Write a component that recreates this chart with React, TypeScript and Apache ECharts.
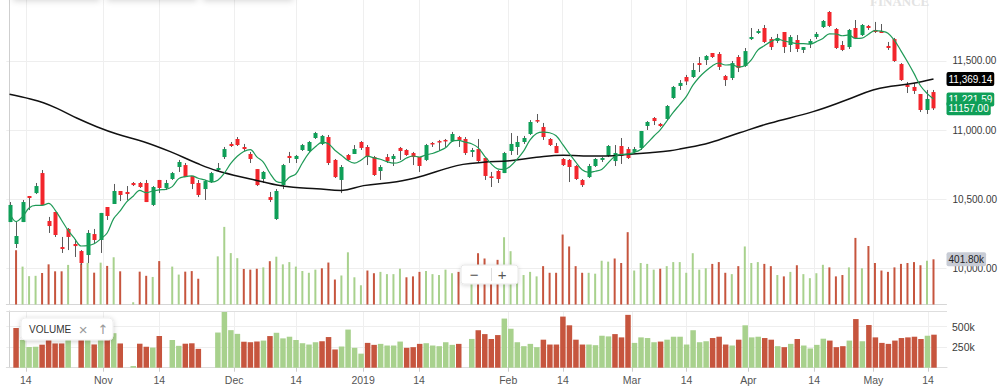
import React, { useEffect, useRef } from 'react';
import * as echarts from 'echarts';

// ---- Candles (open, close, low, high) ----
const opens = [10333,10174,10333,10522,10543,10688,10341,10406,10152,10283,10174,10123,10094,10246,10203,10442,10464,10558,10551,10616,10616,10616,10457,10638,10580,10645,10732,10746,10667,10616,10572,10623,10710,10804,10899,10935,10877,10826,10717,10645,10514,10355,10601,10812,10790,10855,10848,10942,10899,10949,10783,10638,10819,10826,10913,10877,10804,10703,10804,10790,10870,10855,10833,10804,10783,10906,10920,10928,10920,10949,10935,10841,10862,10797,10664,10703,10688,10848,10877,10913,10971,11072,11022,10935,10884,10790,10783,10739,10638,10659,10739,10783,10812,10775,10884,10862,10841,10870,11029,11087,11044,11080,11232,11319,11384,11384,11485,11507,11558,11551,11391,11377,11529,11464,11659,11703,11739,11659,11645,11710,11616,11652,11580,11623,11674,11746,11855,11732,11616,11601,11739,11688,11754,11725,11717,11609,11659,11478,11326,11312,11261,11145,11275];
const closes = [10457,10232,10478,10507,10594,10457,10304,10239,10138,10225,10159,10036,10254,10203,10399,10377,10558,10529,10536,10601,10587,10478,10587,10580,10616,10688,10768,10659,10609,10529,10630,10688,10725,10862,10884,10891,10862,10790,10601,10696,10493,10558,10746,10797,10812,10891,10913,10978,10957,10761,10659,10732,10783,10862,10870,10804,10674,10732,10775,10812,10848,10819,10804,10739,10891,10895,10913,10917,10971,10928,10833,10855,10775,10667,10652,10645,10833,10899,10913,10942,11058,11062,10949,10891,10833,10746,10732,10645,10601,10739,10790,10797,10884,10833,10812,10797,10862,10993,11058,11065,11029,11174,11312,11341,11352,11435,11471,11536,11529,11457,11362,11485,11449,11572,11674,11717,11638,11601,11667,11601,11674,11587,11601,11645,11696,11790,11754,11594,11580,11725,11667,11761,11739,11710,11703,11594,11500,11362,11312,11283,11145,11225,11157];
const lows = [10333,10145,10333,10420,10536,10457,10254,10225,10109,10130,10080,10022,10036,10181,10109,10348,10464,10485,10493,10594,10580,10478,10449,10543,10565,10638,10696,10659,10572,10514,10493,10616,10703,10790,10877,10884,10848,10761,10594,10616,10478,10348,10572,10761,10761,10848,10841,10935,10891,10746,10652,10543,10775,10826,10855,10746,10667,10638,10761,10739,10783,10812,10746,10696,10775,10877,10848,10877,10913,10877,10819,10804,10768,10638,10587,10616,10688,10819,10819,10899,10964,11051,10928,10884,10833,10739,10623,10638,10587,10652,10732,10768,10804,10739,10754,10790,10833,10855,11000,11036,11022,11072,11225,11290,11326,11377,11420,11471,11522,11435,11319,11362,11420,11457,11652,11696,11630,11580,11630,11558,11565,11565,11558,11594,11659,11739,11746,11587,11572,11587,11659,11681,11725,11703,11703,11580,11493,11355,11268,11261,11130,11116,11145];
const highs = [10478,10333,10493,10522,10616,10710,10370,10406,10225,10290,10210,10130,10275,10283,10399,10442,10609,10558,10594,10623,10623,10638,10594,10638,10638,10696,10783,10761,10667,10638,10638,10696,10761,10877,10913,10949,10899,10841,10717,10703,10551,10572,10754,10841,10819,10899,10920,10986,10964,10964,10790,10746,10826,10891,10920,10891,10812,10746,10826,10826,10877,10862,10841,10804,10899,10913,10928,10935,10986,10957,10949,10870,10935,10797,10696,10710,10841,10978,10957,10957,11072,11116,11051,10942,10906,10797,10790,10746,10645,10754,10797,10804,10891,10891,10942,10877,10877,10993,11065,11094,11051,11181,11319,11362,11399,11485,11529,11543,11558,11565,11399,11500,11543,11594,11739,11732,11761,11674,11696,11710,11688,11688,11601,11659,11710,11797,11862,11739,11645,11732,11797,11768,11761,11783,11768,11638,11667,11485,11348,11341,11261,11290,11290];

// ---- Volume, thousands (null = no bar) ----
const volumesK = [null,483,337,252,255,280,357,295,295,352,null,365,370,283,372,343,420,295,null,20,292,255,245,386,null,337,266,292,297,229,null,null,428,690,457,412,316,310,318,330,385,425,357,377,337,298,282,310,322,373,222,258,464,242,171,302,278,290,270,270,318,242,250,290,298,270,262,310,278,290,null,350,456,409,349,397,598,474,310,262,290,250,341,282,282,622,516,341,282,282,274,389,381,409,369,643,302,369,361,310,318,341,377,377,282,456,310,322,361,377,282,270,341,516,369,377,361,341,262,250,290,349,270,234,278,353,330,250,262,330,592,322,520,369,302,290,330,361,369,377,349,389,401.8];

// ---- Moving averages ----
const ma5Lead = [10398, 10336, 10372, 10435];
const ma50X = [0,3.2,5.2,7.3,10.4,13.4,16.5,20.6,24.7,28.8,31.9,37,41.1,43.6,47.2,51,54.4,59.5,63.6,67.2,69.7,72.8,76.9,81,85.1,88.2,91.8,95.3,98.4,101.5,103,107.6,112.2,116.8,123.5,128.6,132.7,135.8,138.9,142];
const ma50Y = [11259,11225,11198,11157,11085,11024,10971,10915,10843,10759,10705,10645,10601,10585,10575,10562,10597,10625,10669,10722,10751,10766,10778,10802,10817,10812,10812,10824,10836,10850,10862,10908,10980,11049,11133,11217,11290,11319,11338,11369.14];

// ---- Axis ticks / labels ----
const tickPos = [2.5,14.4,23,34.5,44,54.3,62.9,76.6,85,95.6,104,113.5,123.6,132.7,141.1];
const tickLabels = ['14','Nov','14','Dec','14','2019','14','Feb','14','Mar','14','Apr','14','May','14'];
const priceTicks = [10000, 10500, 11000, 11500];
const volTicks = [250000, 500000];
const tagMa50 = 11369.14;
const tagMa5 = 11221.59;
const tagLast = 11157.0;
const tagVolume = 401800;

const GREEN = '#0f9f58';
const RED = '#f2262c';
const VG = '#a8d18d';
const VR = '#c6553e';
const FONT = '"Liberation Sans", Arial, Helvetica, sans-serif';

function fmtPrice(v: number): string {
  const s = v.toFixed(2);
  const [a, b] = s.split('.');
  return a.replace(/\B(?=(\d{3})+(?!\d))/g, ',') + '.' + b;
}

export default function App() {
  const ref = useRef<HTMLDivElement>(null);
  useEffect(() => {
    if (!ref.current) return;
    const chart = echarts.init(ref.current, undefined, { renderer: 'svg' });

    const candleData = opens.map((o, i) => [i, o, closes[i], lows[i], highs[i]]);
    const isUp = (i: number) => (i === 0 ? true : closes[i] >= closes[i - 1]);
    const volOverlay: any[] = [];
    const volPane: any[] = [];
    volumesK.forEach((v, i) => {
      if (v == null) return;
      const c = isUp(i) ? VG : VR;
      volOverlay.push({ value: [i, v * 1000], itemStyle: { color: c } });
      volPane.push({ value: [i, v * 1000], itemStyle: { color: c } });
    });
    const ma5 = closes.map((c, i) => {
      if (i < 4) return [i, ma5Lead[i]];
      let s = 0;
      for (let k = i - 4; k <= i; k++) s += closes[k];
      return [i, s / 5];
    });
    const ma50 = ma50X.map((x, i) => [x, ma50Y[i]]);

    const xFmt = (v: number) => {
      const k = tickPos.findIndex((p) => Math.abs(p - v) < 1e-6);
      return k >= 0 ? tickLabels[k] : '';
    };

    const tagLabel = (bg: string, fg: string, text: string) => ({
      show: true,
      position: 'end',
      distance: 0,
      formatter: text,
      backgroundColor: bg,
      color: fg,
      fontSize: 10,
      fontFamily: FONT,
      padding: [2, 2, 2, 2],
      borderRadius: 2,
    });

    const option: any = {
      animation: false,
      textStyle: { fontFamily: FONT },
      grid: [
        { left: 6.3, top: 0, width: 940.7, height: 304.5 },
        { left: 6.3, top: 311, width: 940.7, height: 56.7 },
      ],
      xAxis: [
        {
          type: 'value', gridIndex: 0, min: -0.5, max: 144,
          axisLine: { show: true, onZero: false, lineStyle: { color: '#d6d6d6' } },
          axisTick: { show: false, customValues: tickPos },
          axisLabel: { show: false, customValues: tickPos },
          splitLine: { show: true, lineStyle: { color: '#efefef' } },
        },
        {
          type: 'value', gridIndex: 1, min: -0.5, max: 144,
          axisLine: { show: true, onZero: false, lineStyle: { color: '#dcdcdc' } },
          axisTick: { show: true, length: 4, customValues: tickPos, lineStyle: { color: '#cccccc' } },
          axisLabel: { show: true, customValues: tickPos, formatter: xFmt, color: '#555', fontSize: 10.5, margin: 7 },
          splitLine: { show: true, lineStyle: { color: '#efefef' } },
        },
      ],
      yAxis: [
        {
          type: 'value', gridIndex: 0, position: 'right', min: 9735.6, max: 11942,
          axisLine: { show: true, lineStyle: { color: '#cfcfcf' } },
          axisTick: { show: false, customValues: priceTicks },
          axisLabel: { show: true, customValues: priceTicks, formatter: fmtPrice, color: '#3a3a3a', fontSize: 10, margin: 6 },
          splitLine: { show: true, lineStyle: { color: '#eeeeee' } },
        },
        { type: 'value', gridIndex: 0, position: 'right', min: 0, max: 2707000, show: false, splitLine: { show: false } },
        {
          type: 'value', gridIndex: 1, position: 'right', min: 0, max: 690000,
          axisLine: { show: true, lineStyle: { color: '#cfcfcf' } },
          axisTick: { show: false, customValues: volTicks },
          axisLabel: { show: true, customValues: volTicks, formatter: (v: number) => v / 1000 + 'k', color: '#3a3a3a', fontSize: 10.5, margin: 5 },
          splitLine: { show: true, lineStyle: { color: '#eeeeee' } },
        },
      ],
      series: [
        {
          type: 'bar', name: 'volOverlay', xAxisIndex: 0, yAxisIndex: 1, barWidth: 2, z: 1,
          data: volOverlay,
          markLine: {
            silent: true, symbol: ['none', 'none'],
            lineStyle: { color: 'transparent', width: 0 },
            label: tagLabel('#c8ccd5', '#1e1e1e', '401.80k'),
            data: [{ yAxis: tagVolume }],
          },
        },
        {
          type: 'bar', name: 'volPane', xAxisIndex: 1, yAxisIndex: 2, barWidth: 5.5, z: 1,
          data: volPane,
          markLine: {
            silent: true, symbol: ['none', 'none'],
            lineStyle: { color: '#dedede', width: 1, type: 'solid' },
            label: { show: false },
            data: [{ yAxis: 690000 }],
          },
        },
        {
          type: 'custom', name: 'candles', xAxisIndex: 0, yAxisIndex: 0, z: 3,
          data: candleData,
          encode: { x: 0, y: [1, 2, 3, 4] },
          renderItem: (params: any, api: any) => {
            const x = api.value(0);
            const o = api.value(1), c = api.value(2), l = api.value(3), h = api.value(4);
            const pO = api.coord([x, o]);
            const pC = api.coord([x, c]);
            const pL = api.coord([x, l]);
            const pH = api.coord([x, h]);
            const up = c >= o;
            const top = Math.min(pO[1], pC[1]);
            const bh = Math.max(Math.abs(pO[1] - pC[1]), 1.5);
            const cx = Math.round(pO[0]) + 0.5;
            return {
              type: 'group',
              children: [
                { type: 'line', shape: { x1: cx, y1: pH[1], x2: cx, y2: pL[1] }, style: { stroke: '#5a5a5a', lineWidth: 1 } },
                { type: 'rect', shape: { x: cx - 2, y: top, width: 4, height: bh }, style: { fill: up ? GREEN : RED } },
              ],
            };
          },
        },
        {
          type: 'line', name: 'ma50', xAxisIndex: 0, yAxisIndex: 0, z: 4,
          data: ma50, smooth: 0.4, symbol: 'none',
          lineStyle: { color: '#111', width: 1.5 },
          markLine: {
            silent: true, symbol: ['none', 'none'],
            lineStyle: { color: 'transparent', width: 0 },
            label: tagLabel('#000', '#fff', fmtPrice(tagMa50)),
            data: [{ yAxis: tagMa50 }],
          },
        },
        {
          type: 'line', name: 'ma5', xAxisIndex: 0, yAxisIndex: 0, z: 5,
          data: ma5, smooth: 0.35, symbol: 'none',
          lineStyle: { color: '#1f9a57', width: 1.2 },
          markLine: {
            silent: true, symbol: ['none', 'none'],
            lineStyle: { color: 'transparent', width: 0 },
            data: [
              { yAxis: tagMa5, label: tagLabel('#0f9f58', '#fff', fmtPrice(tagMa5)) },
              { yAxis: tagLast, label: tagLabel('#0f9f58', '#fff', tagLast.toFixed(2)) },
            ],
          },
        },
      ],
      graphic: [
        { type: 'rect', left: 13, top: -12, shape: { width: 87, height: 12 }, style: { fill: '#fff', shadowBlur: 6, shadowColor: 'rgba(0,0,0,0.16)', shadowOffsetY: 1 }, z: 10 },
        { type: 'rect', left: 107, top: -12, shape: { width: 90, height: 12 }, style: { fill: '#fff', shadowBlur: 6, shadowColor: 'rgba(0,0,0,0.16)', shadowOffsetY: 1 }, z: 10 },
        { type: 'rect', left: 203, top: -12, shape: { width: 90, height: 12 }, style: { fill: '#fff', shadowBlur: 6, shadowColor: 'rgba(0,0,0,0.16)', shadowOffsetY: 1 }, z: 10 },
        { type: 'text', x: 870, y: 8, z: 10, style: { text: 'FINANCE', fontSize: 13, fontWeight: 'bold', fontFamily: '"Liberation Serif", serif', fill: '#e3e3e3', verticalAlign: 'bottom', align: 'left' } },
        {
          type: 'rect', x: 21, y: 318, z: 20,
          shape: { x: 0, y: 0, width: 92, height: 22, r: 4 },
          style: { fill: '#ffffff', stroke: '#eeeeee', lineWidth: 1, shadowBlur: 5, shadowColor: 'rgba(0,0,0,0.2)', shadowOffsetY: 1 },
        },
        { type: 'text', x: 29, y: 329, z: 21, style: { text: 'VOLUME', fontSize: 10, fontFamily: FONT, fill: '#333', verticalAlign: 'middle', align: 'left' } },
        { type: 'text', x: 83, y: 329, z: 21, style: { text: '×', fontSize: 15, fontFamily: FONT, fill: '#9a9a9a', verticalAlign: 'middle', align: 'center' } },
        { type: 'text', x: 103, y: 329, z: 21, style: { text: '↑', fontSize: 13, fontFamily: '"DejaVu Sans", sans-serif', fill: '#9a9a9a', verticalAlign: 'middle', align: 'center' } },
        {
          type: 'rect', x: 461, y: 265, z: 20,
          shape: { x: 0, y: 0, width: 57, height: 19, r: 3 },
          style: { fill: '#ffffff', stroke: '#e8e8e8', lineWidth: 1, shadowBlur: 4, shadowColor: 'rgba(0,0,0,0.15)', shadowOffsetY: 1 },
        },
        { type: 'text', x: 474, y: 274.5, z: 21, style: { text: '−', fontSize: 15, fontFamily: FONT, fill: '#555', verticalAlign: 'middle', align: 'center' } },
        { type: 'line', x: 0, y: 0, z: 21, shape: { x1: 491.5, y1: 268, x2: 491.5, y2: 281 }, style: { stroke: '#dddddd', lineWidth: 1 } },
        { type: 'text', x: 502, y: 274.5, z: 21, style: { text: '+', fontSize: 15, fontFamily: FONT, fill: '#555', verticalAlign: 'middle', align: 'center' } },
      ],
    };
    chart.setOption(option);
    return () => chart.dispose();
  }, []);
  return <div ref={ref} style={{ position: 'fixed', left: 0, top: 0, width: 1000, height: 392, background: '#fff' }} />;
}
